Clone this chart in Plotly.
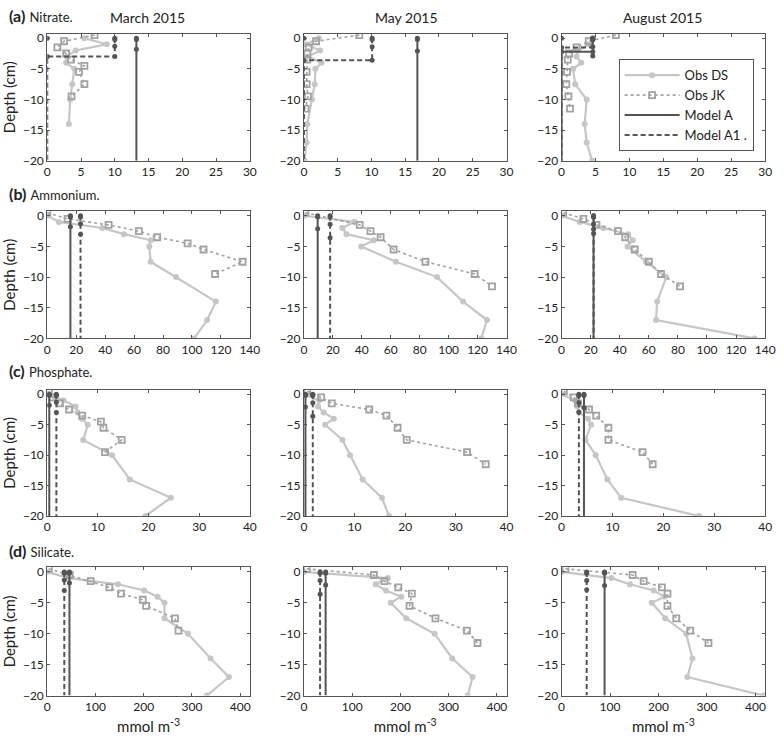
import plotly.graph_objects as go

W, H = 784, 742

MONTHS = ["March 2015", "May 2015", "August 2015"]
ROW_LABELS = ["(a)", "(b)", "(c)", "(d)"]
ROW_NAMES = ["Nitrate.", "Ammonium.", "Phosphate.", "Silicate."]

DS_DEPTH = [0, -1, -2, -3, -4, -5, -7.5, -10, -14, -17, -20]
JK_DEPTH = [0.5, -0.5, -1.5, -2.5, -3.5, -4.5, -5.5, -7.5, -9.5, -11.5]

# Nitrate
NO3_DS_MAR = [5.5, 8.8, 4.2, 2.9, 2.8, 4.0, 3.7, 3.4, 3.2, None, None]
NO3_DS_MAY = [2.2, 0.3, 2.4, 0.6, 2.6, 1.7, 1.6, 1.2, 0.5, 0.4, 0.1]
NO3_DS_AUG = [4.6, 4.0, 2.4, 2.2, 2.9, 1.7, 2.0, 3.7, 3.4, 3.7, 4.5]
NO3_JK_MAR = [7.0, 2.5, 1.5, 2.8, 3.5, 5.5, 4.7, 5.5, 3.6, None]
NO3_JK_MAY = [8.2, 1.8, 0.7, 0.5, 0.5, None, 0.4, 0.4, 0.6, 0.25]
NO3_JK_AUG = [8.0, 4.0, 2.2, 1.1, 0.9, None, 0.8, 0.7, 1.0, 1.25]

# Ammonium
NH4_DS_MAR = [0, 8, 38, 53, 71.5, 70.5, 71.5, 89, 116.5, 110.5, 101.5]
NH4_DS_MAY = [0, 35, 26.5, 29.4, 48.4, 39.6, 63.6, 92, 110, 126.5, 122.6]
NH4_DS_AUG = [0, 12.4, 28.7, 45.8, 49, 45.4, 58, 72, 65.7, 65, 132.7]
NH4_JK_MAR = [0, 14, 42.4, 63.3, 76, 97, 108, 135, 116, None]
NH4_JK_MAY = [1, None, 38.5, 46, 53, None, 62, 84, 118, 130]
NH4_JK_AUG = [1.1, 15, 24, 38.8, 43.8, None, 50.3, 60, 68.4, 81.5]

# Phosphate
PO4_DS_MAR = [0, 3.2, 5.6, 6.0, 6.8, 8.0, 7.1, 12.8, 16.3, 24.4, 19.4]
PO4_DS_MAY = [0, 3.0, 2.8, 3.9, 5.9, 4.2, 7.6, 9.1, 11.6, 15.4, 16.8]
PO4_DS_AUG = [0, 2.6, 3.1, 3.4, 5.2, 5.8, 4.7, 6.7, 9.0, 11.7, 27.0]
PO4_JK_MAR = [0.3, 1.0, 2.5, 4.3, 6.9, 10.6, 11.1, 14.7, 11.4, None]
PO4_JK_MAY = [0.65, 3.4, 5.5, 12.9, 16.3, None, 18.5, 20.3, 32.2, 35.9]
PO4_JK_AUG = [0.45, 2.4, 3.2, 5.4, 6.8, None, 9.2, 9.2, 15.9, 17.9]

# Silicate
SI_DS_MAR = [0, 45, 146.7, 201, 228.7, 243, 243, 292, 338.7, 376.7, 331]
SI_DS_MAY = [0, 174, 148.7, 170, 202, 180, 212, 271, 307.6, 349.7, 339.7]
SI_DS_AUG = [0, 103, 141, 190, 212, 186, 214, 257, 270, 259.5, 416.8]
SI_JK_MAR = [3.3, 46.7, 90, 128.7, 153, 198, 205, 264.7, 272, None]
SI_JK_MAY = [6, 145, 167, 195.6, 223.8, None, 219, 272.7, 338, 360]
SI_JK_AUG = [8, 146.6, 169.4, 207, 218.5, None, 218.5, 236.6, 265.5, 303]

# Model values (per month: Mar, May, Aug)
NO3_MODEL_A = [13.2, 16.8, 4.6]
NO3_MODEL_A1 = [10.0, 10.1, 4.6]
NH4_MODEL_A = [16.0, 9.5, 22.0]
NH4_MODEL_A1 = [23.0, 18.1, 22.0]
PO4_MODEL_A = [0.4, 0.3, 4.4]
PO4_MODEL_A1 = [1.8, 1.75, 3.4]
SI_MODEL_A = [46.0, 45.0, 88.7]
SI_MODEL_A1 = [35.3, 33.5, 51.8]

# Model sample depths (per month)
MODEL_A_DEPTHS = [[0, -0.2, -1.8], [0, -0.2, -2.1], [0, -0.2, -2.2]]
MODEL_A1_DEPTHS = [[0, -0.2, -1.3, -3.0], [0, -0.2, -1.4, -3.6], [0, -0.2, -1.4, -2.9]]
# Nitrate: depth where model drops to zero (None = constant to bottom)
NO3_A_STEP = [None, None, -2.2]
NO3_A1_STEP = [-3.0, -3.6, -1.5]

XRANGES = [[0, 30], [0, 140], [0, 40], [0, 420]]
XTICKS = [[0, 5, 10, 15, 20, 25, 30], [0, 20, 40, 60, 80, 100, 120, 140],
          [0, 10, 20, 30, 40], [0, 100, 200, 300, 400]]
YTICKS = [0, -5, -10, -15, -20]

DS_ROWS = [[NO3_DS_MAR, NO3_DS_MAY, NO3_DS_AUG], [NH4_DS_MAR, NH4_DS_MAY, NH4_DS_AUG],
           [PO4_DS_MAR, PO4_DS_MAY, PO4_DS_AUG], [SI_DS_MAR, SI_DS_MAY, SI_DS_AUG]]
JK_ROWS = [[NO3_JK_MAR, NO3_JK_MAY, NO3_JK_AUG], [NH4_JK_MAR, NH4_JK_MAY, NH4_JK_AUG],
           [PO4_JK_MAR, PO4_JK_MAY, PO4_JK_AUG], [SI_JK_MAR, SI_JK_MAY, SI_JK_AUG]]
A_ROWS = [NO3_MODEL_A, NH4_MODEL_A, PO4_MODEL_A, SI_MODEL_A]
A1_ROWS = [NO3_MODEL_A1, NH4_MODEL_A1, PO4_MODEL_A1, SI_MODEL_A1]

FONT = "Lato"
C_DS = "#c6c6c6"
C_JK = "#a2a2a2"
C_MOD = "#545454"
C_AX = "#555555"
DASH = "5px,3px"

# Layout (pixels)
COL_X = [(45, 251), (306, 512), (568, 775)]
ROW_Y = [(31, 160), (211, 340), (392, 520), (572, 702)]

fig = go.Figure()
layout = {}

def ax_name(i):
    return "" if i == 1 else str(i)

idx = 0
for r in range(4):
    for c in range(3):
        idx += 1
        xa = "x" + ax_name(idx)
        ya = "y" + ax_name(idx)
        x0, x1 = COL_X[c]
        y0, y1 = ROW_Y[r]
        showleg = (r == 0 and c == 0)

        # Obs DS
        fig.add_trace(go.Scatter(
            x=DS_ROWS[r][c], y=DS_DEPTH, mode="lines+markers", connectgaps=True,
            line=dict(color=C_DS, width=2.2), marker=dict(symbol="circle", size=6, color=C_DS),
            name="Obs DS", legendgroup="ds", showlegend=showleg, xaxis=xa, yaxis=ya))
        # Obs JK
        fig.add_trace(go.Scatter(
            x=JK_ROWS[r][c], y=JK_DEPTH, mode="lines+markers", connectgaps=True,
            line=dict(color=C_JK, width=1.6, dash="dot"),
            marker=dict(symbol="square-open", size=6, color=C_JK, line=dict(width=1.8, color=C_JK)),
            name="Obs JK", legendgroup="jk", showlegend=showleg, xaxis=xa, yaxis=ya))

        # Models
        for vals, depths_all, step_all, dash, nm, grp in [
            (A_ROWS[r], MODEL_A_DEPTHS, NO3_A_STEP, "solid", "Model A", "ma"),
            (A1_ROWS[r], MODEL_A1_DEPTHS, NO3_A1_STEP, DASH, "Model A1 .", "ma1")]:
            v = vals[c]
            ds = depths_all[c]
            step = step_all[c] if r == 0 else None
            if step is None:
                lx = [v, v]
                ly = [0, -20]
                mx = [v] * len(ds)
                my = list(ds)
            else:
                lx = [v, v, 0, 0]
                ly = [0, step, step, -20]
                mx = [v] * len(ds) + [0]
                my = list(ds) + [step]
                if grp == "ma1":
                    mx.append(0)
                    my.append(0)
            fig.add_trace(go.Scatter(
                x=lx, y=ly, mode="lines", line=dict(color=C_MOD, width=2, dash=dash),
                name=nm, legendgroup=grp, showlegend=showleg, xaxis=xa, yaxis=ya))
            fig.add_trace(go.Scatter(
                x=mx, y=my, mode="markers", marker=dict(symbol="circle", size=5, color=C_MOD),
                name=nm, legendgroup=grp, showlegend=False, xaxis=xa, yaxis=ya))

        common = dict(showline=True, mirror="ticks", linecolor=C_AX, linewidth=1,
                      ticks="inside", ticklen=3, tickcolor=C_AX, showgrid=False, zeroline=False,
                      tickfont=dict(family=FONT, size=12, color="#222"))
        layout["xaxis" + ax_name(idx)] = dict(
            domain=[x0 / W, x1 / W], anchor=ya, range=XRANGES[r], tickvals=XTICKS[r], **common)
        if r == 3:
            layout["xaxis" + ax_name(idx)]["title"] = dict(
                text="mmol m<sup>-3</sup>", font=dict(family=FONT, size=15, color="#222"), standoff=8)
        layout["yaxis" + ax_name(idx)] = dict(
            domain=[1 - y1 / H, 1 - y0 / H], anchor=xa, range=[-20, 0.75], tickvals=YTICKS, **common)
        if c == 0:
            layout["yaxis" + ax_name(idx)]["title"] = dict(
                text="Depth (cm)", font=dict(family=FONT, size=15, color="#222"), standoff=8)

annotations = []
COL_TITLE_X = [147, 410, 671]
for c, m in enumerate(MONTHS):
    annotations.append(dict(text=m, x=COL_TITLE_X[c] / W, y=1 - 15 / H, xref="paper", yref="paper",
                            showarrow=False, xanchor="center", yanchor="middle",
                            font=dict(family=FONT, size=14, color="#222")))
ROW_LABEL_Y = [13, 193, 373, 555]
for r in range(4):
    annotations.append(dict(
        text="<b>" + ROW_LABELS[r] + "</b> <span style='font-size:13px'>" + ROW_NAMES[r] + "</span>",
        x=4 / W, y=1 - ROW_LABEL_Y[r] / H, xref="paper", yref="paper", showarrow=False,
        xanchor="left", yanchor="middle", font=dict(family=FONT, size=16, color="#222")))

fig.update_layout(
    width=W, height=H, margin=dict(l=0, r=0, t=0, b=0),
    paper_bgcolor="white", plot_bgcolor="white",
    font=dict(family=FONT, color="#222"),
    annotations=annotations,
    legend=dict(x=626 / W, y=1 - 57 / H, xanchor="left", yanchor="top",
                bordercolor=C_AX, borderwidth=1, bgcolor="white",
                font=dict(family=FONT, size=13, color="#222"), itemwidth=55, tracegroupgap=0),
    **layout)

fig.write_html("out.html", config={"displayModeBar": False})

# remove default page margin so the figure sits at the window origin
with open("out.html", "r", encoding="utf-8") as f:
    html = f.read()
html = html.replace("<head>", "<head><style>html,body{margin:0;padding:0;overflow:hidden;}</style>", 1)
with open("out.html", "w", encoding="utf-8") as f:
    f.write(html)
